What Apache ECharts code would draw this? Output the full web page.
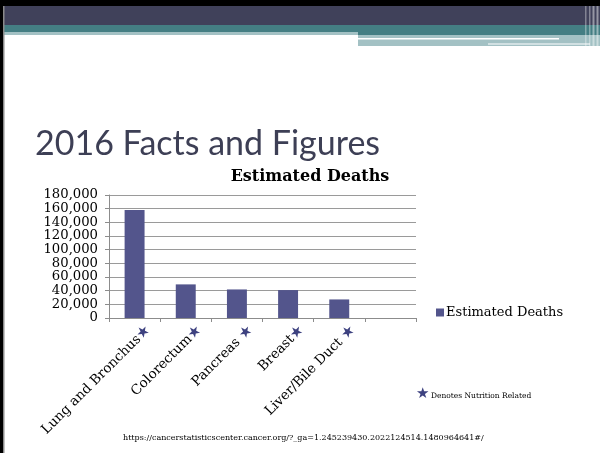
<!DOCTYPE html>
<html>
<head>
<meta charset="utf-8">
<script src="https://cdn.jsdelivr.net/npm/echarts@6/dist/echarts.min.js"></script>
<style>html,body{margin:0;padding:0;background:#fff}#c{width:600px;height:453px}</style>
</head>
<body>
<div id="c"></div>
<script>
const categories = ['Lung and Bronchus', 'Colorectum', 'Pancreas', 'Breast', 'Liver/Bile Duct', ''];
const estimatedDeaths = [158080, 49190, 41780, 40890, 27170, null];
const starSpacer = ['', '', ' ', '', ' ', ''];
const nutritionRelated = [true, true, true, true, true, false];
const yTicks = [0, 20000, 40000, 60000, 80000, 100000, 120000, 140000, 160000, 180000];
const seriesName = 'Estimated Deaths';
const slideTitle = '2016 Facts and Figures';
const noteText = 'Denotes Nutrition Related';
const sourceUrl = 'https://cancerstatisticscenter.cancer.org/?_ga=1.245239430.2022124514.1480964641#/';

const chart = echarts.init(document.getElementById('c'));
const serif = 'DejaVu Serif';
const starColor = '#3e4280';

const option = {
  animation: false,
  backgroundColor: '#fff',
  title: [
    { text: slideTitle, left: 30, top: 122,
      textStyle: { fontFamily: 'Lato', fontSize: 34, fontWeight: 'normal', color: '#3d3f55' } },
    { text: seriesName, left: 305, top: 164, textAlign: 'center',
      textStyle: { fontFamily: serif, fontSize: 16, fontWeight: 'bold', color: '#000' } }
  ],
  grid: { left: 109, right: 184, top: 195, bottom: 135 },
  legend: {
    data: [seriesName], left: 431, top: 301, icon: 'rect', itemWidth: 8, itemHeight: 8, itemGap: 4,
    textStyle: { fontFamily: serif, fontSize: 13, color: '#000', padding: [0,0,0,-3] }
  },
  xAxis: {
    type: 'category', data: categories,
    axisLine: { lineStyle: { color: '#8c8c8c', width: 1 } },
    axisTick: { show: true, alignWithLabel: false, length: 4, lineStyle: { color: '#8c8c8c' } },
    axisLabel: {
      interval: 0, rotate: 45, margin: -4, verticalAlign: 'top', padding: [12, 0, 0, 0],
      formatter: function (v, i) {
        if (!v) return '';
        return '{t|' + v + starSpacer[i] + '}' + (nutritionRelated[i] ? '{s|★}' : '');
      },
      rich: {
        t: { fontFamily: serif, fontSize: 13.5, color: '#000' },
        s: { fontFamily: 'DejaVu Sans', fontSize: 15, color: starColor }
      }
    }
  },
  yAxis: {
    type: 'value', min: 0, max: 180000, interval: 20000,
    axisLine: { show: true, lineStyle: { color: '#8c8c8c' } },
    axisTick: { show: true, length: 4, lineStyle: { color: '#8c8c8c' } },
    splitLine: { lineStyle: { color: '#9a9a9a', width: 1 } },
    axisLabel: {
      margin: 11, fontFamily: serif, fontSize: 13.2, color: '#000', lineHeight: 13,
      showMinLabel: true, showMaxLabel: true, hideOverlap: false,
      formatter: function (v) { return yTicks.indexOf(v) >= 0 ? v.toLocaleString('en-US') : ''; }
    }
  },
  series: [{
    name: seriesName, type: 'bar', data: estimatedDeaths, barWidth: '39%',
    itemStyle: { color: '#53558c' }
  }],
  graphic: [
    { type: 'rect', shape: { x: 0, y: 0, width: 600, height: 6 }, style: { fill: '#000' }, silent: true },
    { type: 'rect', shape: { x: 0, y: 6, width: 600, height: 19 }, style: { fill: '#40415a' }, silent: true },
    { type: 'rect', shape: { x: 0, y: 25, width: 600, height: 7 }, style: { fill: '#447e83' }, silent: true },
    { type: 'rect', shape: { x: 0, y: 32, width: 358, height: 3 }, style: { fill: '#a3c1c4' }, silent: true },
    { type: 'rect', shape: { x: 358, y: 32, width: 242, height: 3 }, style: { fill: '#447e83' }, silent: true },
    { type: 'rect', shape: { x: 358, y: 35, width: 242, height: 11 }, style: { fill: '#a3c1c4' }, silent: true },
    { type: 'rect', shape: { x: 358, y: 38, width: 201, height: 1.5 }, style: { fill: '#fff' }, silent: true },
    { type: 'rect', shape: { x: 488, y: 43.5, width: 102, height: 1 }, style: { fill: '#fff' }, silent: true },
    { type: 'rect', shape: { x: 585, y: 6, width: 1.5, height: 40 }, style: { fill: 'rgba(255,255,255,0.35)' }, silent: true },
    { type: 'rect', shape: { x: 589, y: 6, width: 1.5, height: 40 }, style: { fill: 'rgba(255,255,255,0.35)' }, silent: true },
    { type: 'rect', shape: { x: 592.5, y: 6, width: 2, height: 40 }, style: { fill: 'rgba(255,255,255,0.45)' }, silent: true },
    { type: 'rect', shape: { x: 596.5, y: 6, width: 2, height: 40 }, style: { fill: 'rgba(255,255,255,0.45)' }, silent: true },
    { type: 'rect', shape: { x: 0, y: 0, width: 3, height: 453 }, style: { fill: '#000' }, silent: true },
    { type: 'rect', shape: { x: 3, y: 6, width: 1.5, height: 447 }, style: { fill: '#8a8a8a' }, silent: true },
    { type: 'text', left: 416, top: 387, style: { text: '★', font: '15px "DejaVu Sans"', fill: starColor } },
    { type: 'text', left: 431, top: 392, style: { text: noteText, font: '7.5px "DejaVu Serif"', fill: '#000' } },
    { type: 'text', left: 123, top: 434, style: { text: sourceUrl, font: '8px "DejaVu Serif"', fill: '#000' } }
  ]
};
chart.setOption(option);
</script>
</body>
</html>
